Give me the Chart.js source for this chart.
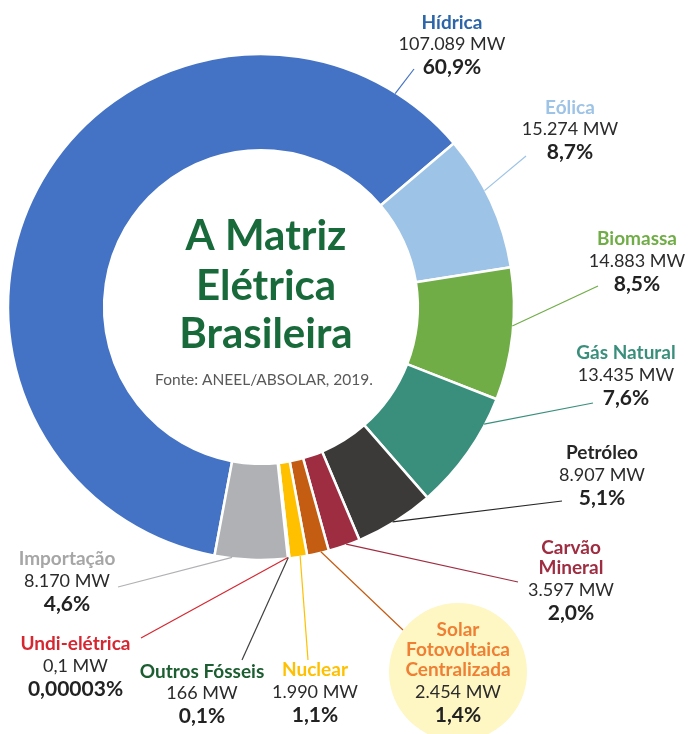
<!DOCTYPE html>
<html>
<head>
<meta charset="utf-8">
<title>A Matriz Elétrica Brasileira</title>
<script src="https://cdn.jsdelivr.net/npm/chart.js@4.4.1/dist/chart.umd.min.js"></script>
<style>
  html, body { margin: 0; padding: 0; background: #ffffff; }
</style>
</head>
<body>
<canvas id="matriz" width="690" height="734"></canvas>
<script>
// Data (ANEEL/ABSOLAR, 2019)
const categories = ['Hídrica', 'Eólica', 'Biomassa', 'Gás Natural', 'Petróleo', 'Carvão\nMineral',
    'Solar\nFotovoltaica\nCentralizada', 'Nuclear', 'Outros Fósseis', 'Undi-elétrica', 'Importação'];
const capacityMW = [107089, 15274, 14883, 13435, 8907, 3597, 2454, 1990, 166, 0.1, 8170];
const shareLabels = ['60,9%', '8,7%', '8,5%', '7,6%', '5,1%', '2,0%', '1,4%', '1,1%', '0,1%', '0,00003%', '4,6%'];

// Colors
const sliceColors = ['#4472c4', '#9dc3e6', '#70ad47', '#3a8f7c', '#3b3a39', '#9f2d41',
    '#c45c12', '#ffc000', '#3b3a39', '#d62630', '#b0b1b4'];
const nameColors = ['#2c65a8', '#9dc3e6', '#70ad47', '#3a8f7c', '#262626', '#9f2d41',
    '#ef7f33', '#ffc000', '#1c5e31', '#d62630', '#a6a6a6'];
const lineColors = ['#4472c4', '#9dc3e6', '#70ad47', '#3a8f7c', '#262626', '#9f2d41',
    '#c45c12', '#ffc000', '#404040', '#d62630', '#b0b1b4'];

// Label placement: text center x, first row y, end of leader line, and where on the slice it starts
const labelLayout = [
    { x: 452, y: 22.5, endX: 414, endY: 69, at: 0.92 },
    { x: 570, y: 107.5, endX: 526, endY: 156, at: 0.41 },
    { x: 637, y: 239, endX: 598, endY: 286, at: 0.44 },
    { x: 626, y: 353, endX: 593, endY: 403, at: 0.23 },
    { x: 602, y: 453, endX: 562, endY: 501, at: 0.53 },
    { x: 571, y: 548, endX: 518, endY: 582, at: 0.43 },
    { x: 458, y: 630, endX: 403, endY: 630, at: 0.36 },
    { x: 315, y: 670, endX: 308, endY: 660, at: 0.39 },
    { x: 202, y: 671.5, endX: 242, endY: 660, at: 0.7 },
    { x: 75.5, y: 644, endX: 141, endY: 638, at: 0.5 },
    { x: 67, y: 559, endX: 118, endY: 587, at: 0.76 }
];

// Function to format MW in Brazilian style
function formatMW(v) {
    const parts = String(v).split('.');
    const intPart = parts[0].replace(/\B(?=(\d{3})+(?!\d))/g, '.');
    return intPart + (parts[1] ? ',' + parts[1] : '') + ' MW';
}

// Plugin that draws title, labels and leader lines
const labelPlugin = {
    id: 'labelPlugin',
    beforeDatasetsDraw(chart) {
        const ctx = chart.ctx;
        // pale circle behind the solar label
        ctx.save();
        ctx.fillStyle = '#fef6c3';
        ctx.beginPath();
        ctx.arc(458, 672, 69, 0, Math.PI * 2);
        ctx.fill();
        ctx.restore();
    },
    afterDatasetsDraw(chart) {
        const ctx = chart.ctx;
        const arcs = chart.getDatasetMeta(0).data;
        ctx.save();

        arcs.forEach((arc, i) => {
            const p = arc.getProps(['x', 'y', 'startAngle', 'endAngle', 'outerRadius'], true);
            const lay = labelLayout[i];
            const a = p.startAngle + (p.endAngle - p.startAngle) * lay.at;

            // leader line
            ctx.strokeStyle = lineColors[i];
            ctx.lineWidth = 1.2;
            ctx.beginPath();
            ctx.moveTo(p.x + Math.cos(a) * (p.outerRadius - 1), p.y + Math.sin(a) * (p.outerRadius - 1));
            ctx.lineTo(lay.endX, lay.endY);
            ctx.stroke();

            // text rows
            ctx.textAlign = 'center';
            ctx.textBaseline = 'middle';
            let y = lay.y;
            const names = chart.data.labels[i].split('\n');
            ctx.fillStyle = nameColors[i];
            ctx.font = 'bold 19px Lato';
            names.forEach((n, k) => {
                if (k > 0) y += 20;
                ctx.fillText(n, lay.x, y);
            });
            y += 22;
            ctx.fillStyle = '#2b2b2b';
            ctx.font = '18px Lato';
            ctx.fillText(formatMW(capacityMW[i]), lay.x, y);
            y += 23;
            ctx.fillStyle = '#222222';
            ctx.font = 'bold 21px Lato';
            ctx.fillText(shareLabels[i], lay.x, y);
        });

        // title in the hole
        const cx = arcs[0].x + 5;
        const cy = arcs[0].y;
        ctx.textAlign = 'center';
        ctx.textBaseline = 'alphabetic';
        ctx.fillStyle = '#186a3b';
        ctx.font = 'bold 42px Lato';
        ctx.fillText('A Matriz', cx, cy - 57);
        ctx.fillText('Elétrica', cx, cy - 7);
        ctx.fillText('Brasileira', cx, cy + 41);
        ctx.fillStyle = '#595959';
        ctx.font = '15.5px Lato';
        ctx.fillText('Fonte: ANEEL/ABSOLAR, 2019.', cx - 2, cy + 78);
        ctx.restore();
    }
};

// Doughnut chart
const matrizChart = new Chart(document.getElementById('matriz').getContext('2d'), {
    type: 'doughnut',
    data: {
        labels: categories,
        datasets: [{
            data: capacityMW,
            backgroundColor: sliceColors,
            borderColor: '#ffffff',
            borderWidth: 2.5,
            radius: 253
        }]
    },
    options: {
        responsive: false,
        animation: false,
        events: [],
        cutout: '62%',
        rotation: 190.6,
        layout: { padding: { left: 8, right: 176, top: 54, bottom: 174 } },
        plugins: {
            legend: { display: false },
            tooltip: { enabled: false }
        }
    },
    plugins: [labelPlugin]
});
</script>
</body>
</html>
